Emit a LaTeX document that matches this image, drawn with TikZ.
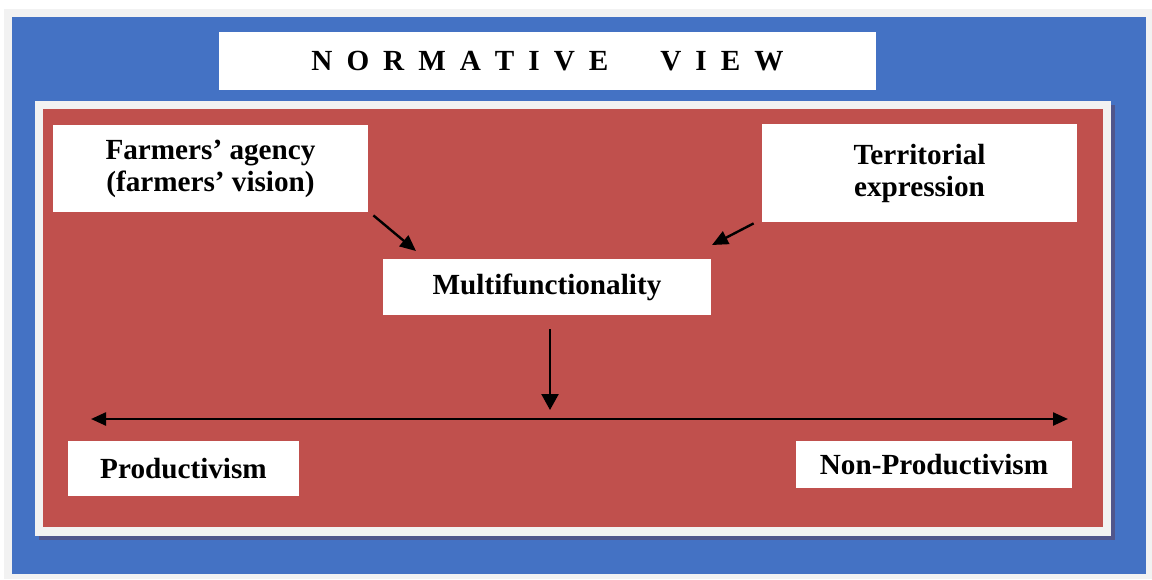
\documentclass[tikz,border=0pt]{standalone}
\usepackage{fontspec}
\setmainfont{Liberation Serif}
\usetikzlibrary{arrows.meta}
\definecolor{framegray}{RGB}{242,242,242}
\definecolor{viewblue}{RGB}{68,114,196}
\definecolor{fieldred}{RGB}{192,80,77}
\definecolor{shadowblue}{RGB}{80,86,140}
\tikzset{
	box/.style={fill=white, inner sep=0pt, align=center, font=\fontsize{14.6}{16}\selectfont\bfseries},
	arr/.style={line width=1.2pt, -{Triangle[length=8pt,width=7pt]}},
	downarr/.style={line width=1.2pt, -{Triangle[length=8pt,width=8.5pt]}},
	axisarr/.style={line width=1.2pt, {Triangle[length=7.5pt,width=6.5pt]}-{Triangle[length=7.5pt,width=6.5pt]}},
}
\newcommand{\tgap}{\hspace{7pt}}
\begin{document}
\begin{tikzpicture}[x=0.5pt,y=-0.5pt]
	\useasboundingbox (0,0) rectangle (1152,579);
	\fill[color = white] (0,0) rectangle (1152,579);
	\fill[color = framegray] (4,9) rectangle (1152,579);
	\fill[color = viewblue] (12,17) rectangle (1146,574);
	\fill[color = shadowblue] (39,105) rectangle (1115,540);
	\fill[color = framegray] (35,101) rectangle (1111,536);
	\fill[color = fieldred] (43,109) rectangle (1103,527);
	\node[box, minimum width=328.5pt, minimum height=29pt] (title) at (547.5,61) {N\tgap O\tgap R\tgap M\tgap A\tgap T\tgap I\tgap V\tgap E\hspace{26pt}V\tgap I\tgap E\tgap W};
	\node[box, minimum width=157.5pt, minimum height=43.5pt] (farm) at (210.5,168.5) {Farmers’ agency\\(farmers’ vision)};
	\node[box, minimum width=157.5pt, minimum height=49pt] (terr) at (919.5,173) {Territorial\\expression};
	\node[box, minimum width=164pt, minimum height=28pt] (multi) at (547,287) {Multifunctionality};
	\node[box, minimum width=115.5pt, minimum height=27.5pt] (prod) at (183.5,468.5) {Productivism};
	\node[box, minimum width=138pt, minimum height=23.5pt] (nonprod) at (934,464.5) {Non-Productivism};
	\coordinate (farmtip) at (416,251);
	\coordinate (terrtip) at (712,245);
	\coordinate (multitip) at (550,410);
	\coordinate (axisl) at (91,419);
	\coordinate (axisr) at (1068,419);
	\draw[arr] ([shift={(5,3)}]farm.south east) -- (farmtip);
	\draw[arr] ([shift={(-8,1)}]terr.south west) -- (terrtip);
	\draw[downarr] ([shift={(3,14)}]multi.south) -- (multitip);
	\draw[axisarr] (axisl) -- (axisr);
\end{tikzpicture}
\end{document}
